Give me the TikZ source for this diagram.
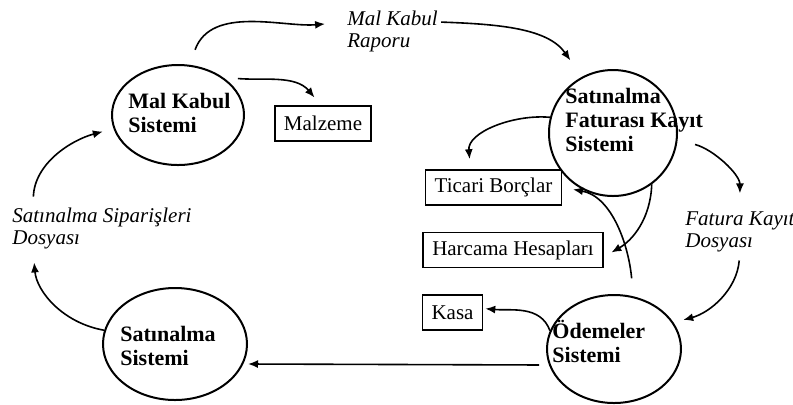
\documentclass[tikz,border=0pt]{standalone}
\usepackage{fontspec}
\setmainfont{Liberation Serif}
\usetikzlibrary{positioning, arrows.meta, shapes.geometric}

\begin{document}
\begin{tikzpicture}
    [
        x=0.5pt, y=0.5pt, >={Latex[length=5pt, width=4pt]},
        sys_node/.style={ellipse, draw=black, line width=1pt, inner sep=0pt},
        sys_text/.style={anchor=west, align=left, inner sep=0pt, font=\fontsize{11}{12}\selectfont\bfseries},
        store_box/.style={rectangle, draw=black, line width=0.8pt, inner xsep=4.5pt, inner ysep=0pt, minimum height=17.5pt, font=\fontsize{10.5}{12}\selectfont},
        flow_label/.style={anchor=west, align=left, inner sep=0pt, font=\fontsize{10.5}{11}\selectfont\itshape},
    ]
        \useasboundingbox (0,0) rectangle (793,-404) ;
        % systems
        \node[sys_node, minimum width=66pt, minimum height=50pt] (malkabul) at (178,-115) {} ;
        \node[sys_node, minimum width=64pt, minimum height=63pt] (faturakayit) at (613,-133) {} ;
        \node[sys_node, minimum width=67pt, minimum height=54pt] (odemeler) at (614,-349) {} ;
        \node[sys_node, minimum width=72pt, minimum height=56pt] (satinalma) at (175,-344) {} ;
        \node[sys_text] (malkabulText) at (128,-113) {Mal Kabul\\Sistemi} ;
        \node[sys_text] (faturakayitText) at (565,-120) {Satınalma\\Faturası Kayıt\\Sistemi} ;
        \node[sys_text] (odemelerText) at (552,-341) {Ödemeler\\Sistemi} ;
        \node[sys_text] (satinalmaText) at (120,-346) {Satınalma\\Sistemi} ;
        % stores
        \node[store_box] (malzeme) at (323,-123.5) {Malzeme} ;
        \node[store_box] (ticari) at (493.5,-187.5) {Ticari Borçlar} ;
        \node[store_box] (harcama) at (513,-250) {Harcama Hesapları} ;
        \node[store_box] (kasa) at (452.5,-312.5) {Kasa} ;
        % files
        \node[flow_label] (rapor) at (347,-31) {Mal Kabul\\Raporu} ;
        \node[flow_label] (fatura) at (685,-232) {Fatura Kayıt\\Dosyası} ;
        \node[flow_label] (siparis) at (12,-228.5) {Satınalma Siparişleri\\Dosyası} ;
        % flows
        \draw[->, line width=0.8pt, shorten <=8pt, shorten >=11pt] (malkabul.77) to[out=70, in=185] ([yshift=4.5pt]rapor.west) ;
        \draw[->, line width=0.8pt, shorten >=10pt] ([xshift=1.5pt, yshift=-6pt]rapor.north east) to[out=-2, in=125] (faturakayit.119) ;
        \draw[->, line width=0.8pt, shorten <=7.5pt, shorten >=5pt] (malkabul.40) to[out=-5, in=130] ([xshift=-1pt]malzeme.north) ;
        \draw[->, line width=0.8pt, shorten >=5pt] (faturakayit.166) to[out=175, in=95] ([xshift=-11.5pt]ticari.north) ;
        \draw[->, line width=0.8pt, shorten <=9pt, shorten >=9pt] (faturakayit.-6) to[out=-15, in=90] (fatura.north) ;
        \draw[->, line width=0.8pt, shorten <=4pt, shorten >=5pt] (fatura.south) to[out=-95, in=15] (odemeler.24) ;
        \draw[->, line width=0.8pt, shorten >=4.5pt] (faturakayit.-53) to[out=-92, in=30] ([yshift=-3.5pt]harcama.east) ;
        \draw[->, line width=0.8pt, shorten <=9pt, shorten >=5.5pt] (odemeler.70) to[out=95, in=-10] (ticari.east) ;
        \draw[->, line width=0.8pt, shorten >=1pt] (odemeler.164) to[out=110, in=-5] ([yshift=2pt]kasa.east) ;
        \draw[->, line width=0.8pt, shorten <=3.5pt] ([yshift=-8pt]odemeler.west) -- ([yshift=-10pt]satinalma.east) ;
        \draw[->, line width=0.8pt, shorten >=6.5pt] (satinalma.169) to[out=170, in=-85] ([xshift=10.5pt]siparis.south west) ;
        \draw[->, line width=0.8pt, shorten <=5.5pt, shorten >=5.5pt] ([xshift=10.5pt]siparis.north west) to[out=88, in=195] (malkabul.192) ;
\end{tikzpicture}
\end{document}
